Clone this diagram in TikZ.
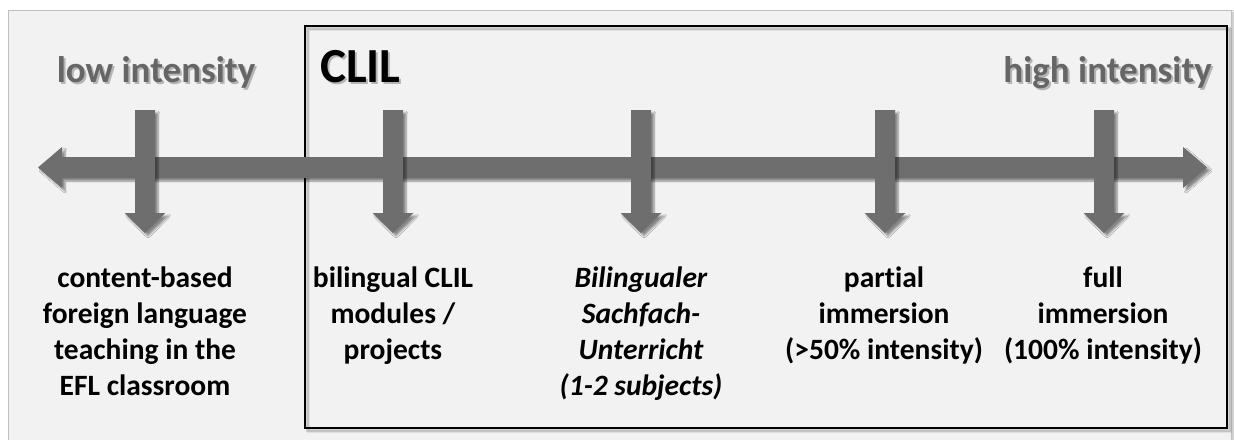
\documentclass[tikz,border=0pt]{standalone}
\usepackage{fontspec}
\setmainfont{Carlito}[Ligatures={NoCommon,NoRare,TeX}]
\usetikzlibrary{shadows.blur}
\definecolor{arrowgrey}{RGB}{110,110,110}
\definecolor{panelgrey}{RGB}{242,242,242}
\definecolor{headgrey}{RGB}{102,102,102}
\begin{document}
\begin{tikzpicture}[x=1pt,y=-1pt,
  bigarrow/.style={fill=arrowgrey,draw=none,blur shadow={shadow xshift=3pt,shadow yshift=-3pt,shadow blur steps=6,shadow opacity=45}},
  lbl/.style={anchor=north,inner sep=0pt,align=center,font=\fontsize{29.5}{36}\selectfont\bfseries},
  head/.style={inner sep=0pt,font=\fontsize{37}{40}\selectfont\bfseries,text=headgrey},
  headshadow/.style={inner sep=0pt,font=\fontsize{37}{40}\selectfont\bfseries,text=black,opacity=0.25},
  frameshadow/.style={draw=black,line width=3pt,opacity=#1}
]
\useasboundingbox (0,0) rectangle (1234,439);
\fill[white] (0,0) rectangle (1234,439);
% outer panel
\path[fill=panelgrey,draw=black!25,line width=1pt,blur shadow={shadow xshift=2pt,shadow yshift=-2pt,shadow blur steps=5,shadow opacity=30}] (8,10) rectangle (1231,445);
% CLIL frame with soft shadow
\draw[frameshadow=0.08] (308,29) rectangle (1230,431);
\draw[frameshadow=0.12] (307,28) rectangle (1229,430);
\draw[black,line width=1.6pt] (305,26) rectangle (1227,428);
% horizontal double arrow
\path[bigarrow] (38,167.5) -- (62,147) -- (62,157) -- (1183,157) -- (1183,147) -- (1207,167.5) -- (1183,188) -- (1183,178) -- (62,178) -- (62,188) -- cycle;
% vertical arrows
\foreach \xc in {145,393,641,885,1104}{
  \path[bigarrow] (\xc-10,110) -- (\xc+10,110) -- (\xc+10,213) -- (\xc+20.5,213) -- (\xc,233) -- (\xc-20.5,213) -- (\xc-10,213) -- cycle;
}
% headings
\node[headshadow,anchor=base] at (158,84) {low intensity};
\node[head,anchor=base] (low) at (156,82) {low intensity};
\node[headshadow,anchor=base east] at (1214,84) {high intensity};
\node[head,anchor=base east] (high) at (1212,82) {high intensity};
\node[inner sep=0pt,anchor=base west,font=\fontsize{49}{52}\selectfont\bfseries,text=black,opacity=0.25] at (322,84) {CLIL};
\node[inner sep=0pt,anchor=base west,font=\fontsize{49}{52}\selectfont\bfseries] (clil) at (320,82) {CLIL};
% labels
\node[lbl] (l1) at (145,262) {\strut content-based\\foreign language\\teaching in the\\EFL classroom};
\node[lbl] (l2) at (393,262) {\strut bilingual CLIL\\modules /\\projects};
\node[lbl,font=\fontsize{29.5}{36}\selectfont\bfseries\itshape] (l3) at (641,262) {\strut Bilingualer\\Sachfach-\\Unterricht\\(1-2 subjects)};
\node[lbl] (l4) at (884,262) {\strut part\kern0pt ial\\immersion\\(>50\% intensity)};
\node[lbl] (l5) at (1103,262) {\strut full\\immersion\\(100\% intensity)};
\end{tikzpicture}
\end{document}
